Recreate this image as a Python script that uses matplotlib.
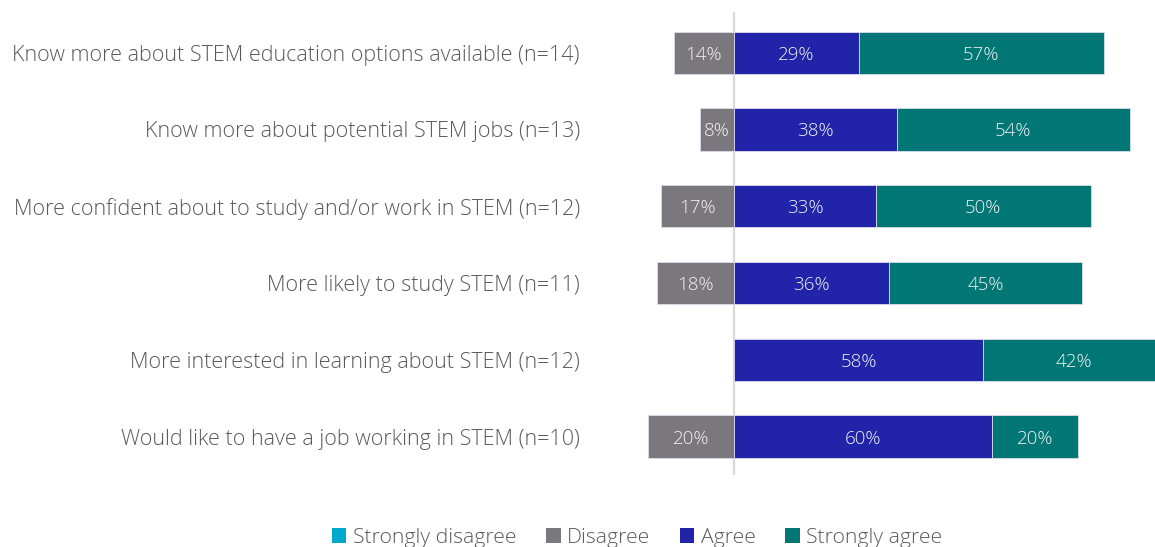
import matplotlib.pyplot as plt
import numpy as np
from matplotlib.patches import Patch

# --- Dados ---
categorias = [
    'Know more about STEM education options available (n=14)',
    'Know more about potential STEM jobs (n=13)',
    'More confident about to study and/or work in STEM (n=12)',
    'More likely to study STEM (n=11)',
    'More interested in learning about STEM (n=12)',
    'Would like to have a job working in STEM (n=10)',
]
strongly_disagree = [0, 0, 0, 0, 0, 0]
disagree = [14, 8, 17, 18, 0, 20]
agree = [29, 38, 33, 36, 58, 60]
strongly_agree = [57, 54, 50, 45, 42, 20]

cores = {
    'Strongly disagree': '#00a9cc',
    'Disagree': '#7a787c',
    'Agree': '#2123a9',
    'Strongly agree': '#007675',
}

plt.rcParams['font.family'] = ['Open Sans', 'DejaVu Sans']
plt.rcParams['font.weight'] = 'light'

fig = plt.figure(figsize=(11.55, 5.47), dpi=100)
ax = fig.add_axes([600 / 1155, 1 - 475 / 547, 555 / 1155, 463 / 547])

y = np.arange(len(categorias))
sd = np.array(strongly_disagree)
d = np.array(disagree)
a = np.array(agree)
sa = np.array(strongly_agree)

altura = 0.55
borda = dict(edgecolor='#dcdcec', linewidth=0.6, height=altura, zorder=3)
ax.barh(y, -sd, left=-d, color=cores['Strongly disagree'], **borda)
ax.barh(y, -d, color=cores['Disagree'], **borda)
ax.barh(y, a, color=cores['Agree'], **borda)
ax.barh(y, sa, left=a, color=cores['Strongly agree'], **borda)

# rótulos de valor
rot = dict(ha='center', va='center_baseline', color='#f2f2f2', fontsize=13.5, zorder=4)
for i in range(len(y)):
    if d[i] > 0:
        ax.text(-d[i] / 2, y[i], f'{d[i]}%', **rot)
    if a[i] > 0:
        ax.text(a[i] / 2, y[i], f'{a[i]}%', **rot)
    if sa[i] > 0:
        ax.text(a[i] + sa[i] / 2, y[i], f'{sa[i]}%', **rot)

ax.axvline(0, color='#d9d9d9', linewidth=1.6, zorder=2)

ax.set_xlim((600 - 734) / 4.3, (1155 - 734) / 4.3)
ax.set_ylim(5.5, -0.53)
ax.set_yticks(y)
ax.set_yticklabels(categorias, fontsize=15.5, color='#595959')
ax.tick_params(axis='y', length=0, pad=14.4)
ax.set_xticks([])
for s in ax.spines.values():
    s.set_visible(False)

handles = [Patch(facecolor=c, edgecolor='none') for c in cores.values()]
fig.legend(handles, list(cores.keys()), loc='center', bbox_to_anchor=(637 / 1155, 1 - 538 / 547),
           ncol=4, frameon=False, fontsize=15.2, labelcolor='#595959',
           handlelength=0.7, handleheight=0.7, handletextpad=0.3, columnspacing=1.4)

fig.savefig('out.png', dpi=100)
